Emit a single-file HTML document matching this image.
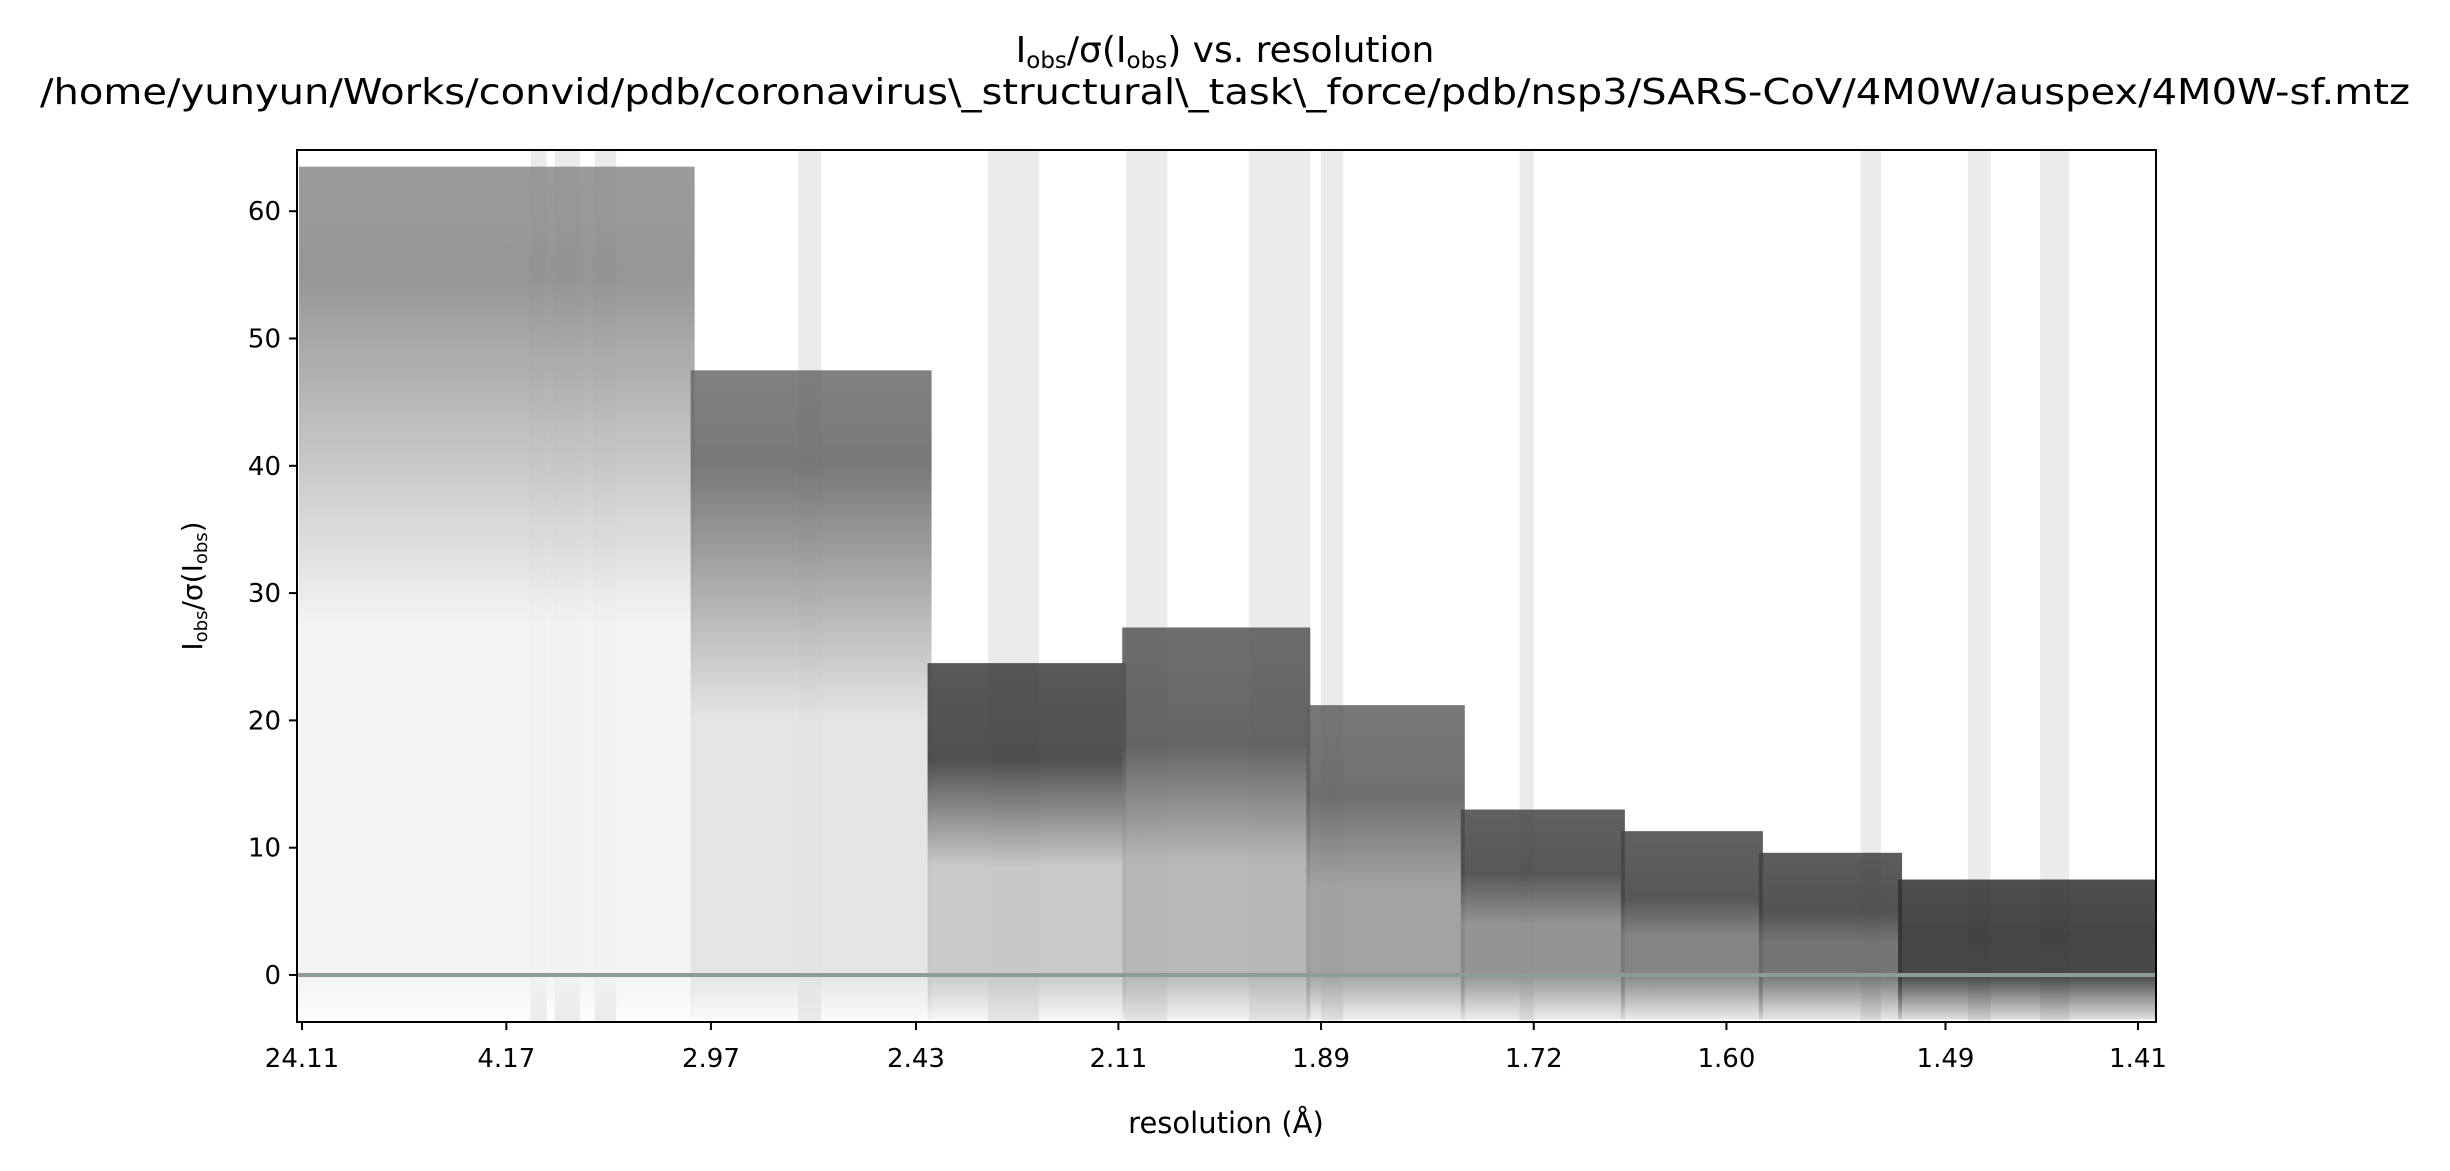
<!DOCTYPE html>
<html><head><meta charset="utf-8"><style>
body{margin:0;background:#fff;}
svg{display:block;font-family:"DejaVu Sans","Liberation Sans",sans-serif;}
</style></head><body>
<svg id="chart" width="2450" height="1171" viewBox="0 0 2450 1171" xmlns="http://www.w3.org/2000/svg">
<defs id="defs"></defs>
<text x="1225" y="62" font-size="36" text-anchor="middle">I<tspan font-size="23" dy="6">obs</tspan><tspan dy="-6">/σ(I</tspan><tspan font-size="23" dy="6">obs</tspan><tspan dy="-6">) vs. resolution</tspan></text>
<text x="1225" y="104" font-size="36" text-anchor="middle" textLength="2370" lengthAdjust="spacingAndGlyphs">/home/yunyun/Works/convid/pdb/coronavirus\_structural\_task\_force/pdb/nsp3/SARS-CoV/4M0W/auspex/4M0W-sf.mtz</text>
<g id="bands"></g>
<g id="bins"></g>
<g id="zero"></g>
<rect x="297" y="150" width="1859" height="872" fill="none" stroke="#000" stroke-width="2"/>
<g id="xticks"></g>
<g id="yticks"></g>
<text x="1226" y="1133" font-size="29" text-anchor="middle">resolution (Å)</text>
<text transform="translate(202,586) rotate(-90)" font-size="28" text-anchor="middle">I<tspan font-size="18" dy="5">obs</tspan><tspan dy="-5">/σ(I</tspan><tspan font-size="18" dy="5">obs</tspan><tspan dy="-5">)</tspan></text>
</svg>
<script>
const xTickLabels = ["24.11","4.17","2.97","2.43","2.11","1.89","1.72","1.60","1.49","1.41"];
const yTicks = [0,10,20,30,40,50,60];
const binEdges = [24.11,3.03,2.40,2.10,1.90,1.77,1.66,1.58,1.51,1.395];
const binTop = [63.5,47.5,24.5,27.3,21.2,13,11.3,9.6,7.5];
const binDense = [55,40,17,18,14,8,6,5,3];
const binTopShade = ["#8a8a8a","#6a6a6a","#3c3c3c","#555","#606060","#454545","#454545","#404040","#303030"];
const binLowShade = ["#f2f2f2","#e2e2e2","#c4c4c4","#b0b0b0","#999","#888","#777","#666","#333"];
const bandStart = [3.95,3.76,3.50,2.70,2.30,2.10,1.96,1.94,1.89,1.73,1.53,1.48,1.449];
const bandEnd = [3.82,3.59,3.38,2.64,2.22,2.05,1.94,1.90,1.87,1.72,1.52,1.47,1.437];

const NS="http://www.w3.org/2000/svg";
const L=297,R=2156,T=150,B=1022;
const sMin=1/(24.11*24.11), sMax=1/(1.41*1.41);
function xs(d){const s=1/(d*d);return 302+(s-sMin)*(2138-302)/(sMax-sMin);}
function ys(v){return 975-v*12.73;}
function mk(tag,attrs,parent){const e=document.createElementNS(NS,tag);for(const k in attrs)e.setAttribute(k,attrs[k]);parent.appendChild(e);return e;}
const defs=document.getElementById('defs');
const bands=document.getElementById('bands');
bandStart.forEach((d,i)=>{
  const x1=xs(d),x2=xs(bandEnd[i]);
  const r=mk('rect',{x:x1,y:T,width:x2-x1,height:B-T,fill:'#ebebeb'},bands);
  
  
});
const bins=document.getElementById('bins');
binTop.forEach((top,i)=>{
  const x1=Math.max(L+2,xs(binEdges[i])-4),x2=Math.min(R,xs(binEdges[i+1]));
  const yTop=ys(top),yBot=ys(-3.5);
  const h=yBot-yTop;
  const g=mk('linearGradient',{id:'g'+i,x1:0,y1:0,x2:0,y2:1},defs);
  const fD=(ys(binDense[i])-yTop)/h, f0=(ys(0)-yTop)/h;
  mk('stop',{offset:0,'stop-color':binTopShade[i],'stop-opacity':0.85},g);
  mk('stop',{offset:fD,'stop-color':binTopShade[i],'stop-opacity':0.9},g);
  mk('stop',{offset:Math.min(0.99,(fD+f0)/2),'stop-color':binLowShade[i],'stop-opacity':0.9},g);
  mk('stop',{offset:f0,'stop-color':binLowShade[i],'stop-opacity':0.9},g);
  mk('stop',{offset:1,'stop-color':binLowShade[i],'stop-opacity':0.15},g);
  const r=mk('rect',{x:x1,y:yTop,width:x2-x1,height:h,fill:'url(#g'+i+')'},bins);
  
  
});
const zl=mk('line',{x1:L,x2:R,y1:ys(0),y2:ys(0),stroke:'#8c9c96','stroke-width':4},document.getElementById('zero'));


const xt=document.getElementById('xticks');
xTickLabels.forEach(lab=>{
  const x=xs(parseFloat(lab));
  mk('line',{x1:x,x2:x,y1:B,y2:B+8,stroke:'#000','stroke-width':2},xt);
  const t=mk('text',{x:x,y:B+45,'font-size':26,'text-anchor':'middle'},xt);
  t.textContent=lab;
  
  
});
const yt=document.getElementById('yticks');
yTicks.forEach(v=>{
  const y=ys(v);
  mk('line',{x1:L-8,x2:L,y1:y,y2:y,stroke:'#000','stroke-width':2},yt);
  const t=mk('text',{x:L-16,y:y+9,'font-size':26,'text-anchor':'end'},yt);
  t.textContent=v;
  
  
});
</script>
</body></html>
